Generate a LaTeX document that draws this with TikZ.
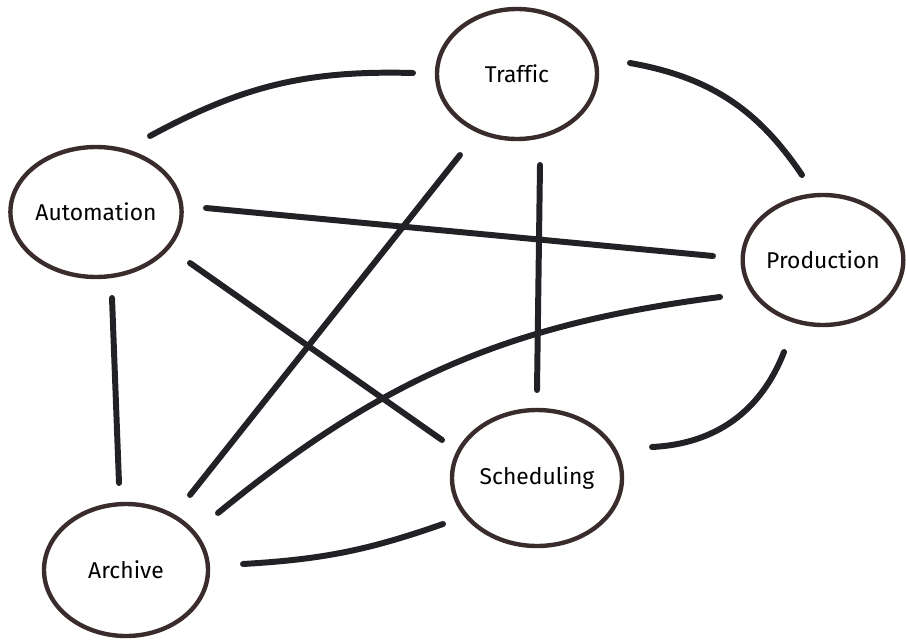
\documentclass[tikz,border=0pt]{standalone}
\usepackage{fontspec}
\setmainfont{Fira Sans}[Ligatures=NoCommon]
\usetikzlibrary{shapes.geometric}
\definecolor{ringcol}{HTML}{3A2C2C}
\definecolor{linecol}{HTML}{222226}
\tikzset{
  bubble/.style={ellipse, draw=ringcol, line width=2.5pt, fill=white, inner sep=0pt,
    font=\fontsize{13}{15}\selectfont, text=black},
  link/.style={draw=linecol, line width=3.4pt, line cap=round}
}
\begin{document}
\begin{tikzpicture}[x=0.02cm, y=-0.02cm]
\useasboundingbox (0,0) rectangle (906,639);
\node[bubble, minimum width=160*0.02cm, minimum height=130*0.02cm] (traf) at (517,74) {Traffic};
\node[bubble, minimum width=170*0.02cm, minimum height=130*0.02cm] (aut) at (96,212) {Automation};
\node[bubble, minimum width=160*0.02cm, minimum height=130*0.02cm] (prod) at (823,260) {Production};
\node[bubble, minimum width=170*0.02cm, minimum height=136*0.02cm] (sch) at (537,478) {Scheduling};
\node[bubble, minimum width=164*0.02cm, minimum height=132*0.02cm] (arc) at (126,570) {Archive};

\draw[link] ([shift={(54,-76)}]aut.center) to[bend left=15] ([shift={(-104,-1)}]traf.center);
\draw[link] ([shift={(113,-11)}]traf.center) to[bend left=23] ([shift={(-21,-85)}]prod.center);
\draw[link] ([shift={(110,-4)}]aut.center) -- ([shift={(-110,-4)}]prod.center);
\draw[link] ([shift={(94,51)}]aut.center) -- ([shift={(-95,-38)}]sch.center);
\draw[link] ([shift={(16,86)}]aut.center) -- ([shift={(-7,-87)}]arc.center);
\draw[link] ([shift={(-57,81)}]traf.center) -- ([shift={(64,-75)}]arc.center);
\draw[link] ([shift={(23,91)}]traf.center) -- ([shift={(0,-88)}]sch.center);
\draw[link] ([shift={(-103,37)}]prod.center) to[bend right=16] ([shift={(92,-57)}]arc.center);
\draw[link] ([shift={(-39,92)}]prod.center) to[bend left=33] ([shift={(115,-31)}]sch.center);
\draw[link] ([shift={(117,-6)}]arc.center) to[bend right=8] ([shift={(-94,46)}]sch.center);
\end{tikzpicture}
\end{document}
